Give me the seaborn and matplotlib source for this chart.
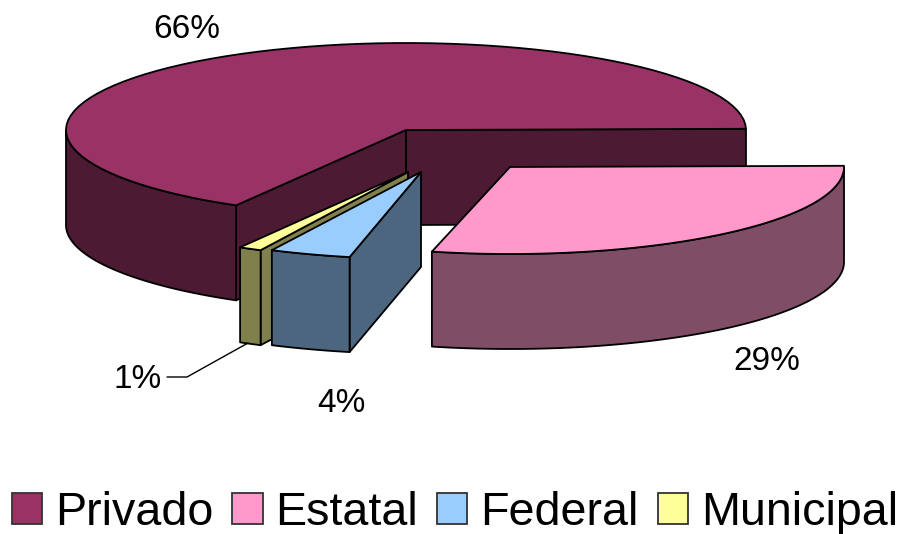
import numpy as np
import seaborn as sns
import matplotlib.pyplot as plt
from matplotlib.patches import Patch

# DATA
categories = ["Privado", "Estatal", "Federal", "Municipal"]
shares = [66.45, 28.59, 3.86, 1.1]
colors = ["#993366", "#FF99CC", "#99CCFF", "#FFFF99"]

# SETTING (slices go round the pie in this order, all in pixels)
draw_order = ["Privado", "Municipal", "Federal", "Estatal"]
centers = {"Privado": (406, 130), "Municipal": (408, 172), "Federal": (421, 172), "Estatal": (510, 167)}
radius_x = {"Privado": 340, "Municipal": 336, "Federal": 340, "Estatal": 334}
radius_y = 87
depth = 95
start_angle = 0.8
# the exploded slice sits a little further round in the perspective
start_shift = {"Estatal": -1.4}
label_pos = {"Privado": (187, 29), "Estatal": (767, 362), "Federal": (341, 403), "Municipal": (138, 380)}
font = "Liberation Sans"

sns.set_theme(style="white")
plt.rcParams['font.family'] = [font, 'DejaVu Sans']

fig, ax = plt.subplots(figsize=(9.02, 5.34), dpi=100)
fig.subplots_adjust(left=0, right=1, bottom=0, top=1)
ax.set_xlim(0, 902)
ax.set_ylim(534, 0)
ax.axis("off")


def arc(name, t0, t1):
    cx, cy = centers[name]
    t = np.radians(np.linspace(t0, t1, 80))
    return cx + radius_x[name] * np.cos(t), cy - radius_y * np.sin(t)


def face(xs, ys, color):
    ax.fill(xs, ys, facecolor=color, edgecolor="black", linewidth=1.3, joinstyle="round")


def wall(name, angle, color):
    cx, cy = centers[name]
    x, y = arc(name, angle, angle)
    face([cx, x[0], x[0], cx], [cy, y[0], y[0] + depth, cy + depth], color)


angle = start_angle
for name in draw_order:
    share = shares[categories.index(name)]
    color = colors[categories.index(name)]
    dark = tuple(c * 0.5 for c in sns.color_palette([color])[0])
    t0, t1 = angle + start_shift.get(name, 0), angle + share * 3.6
    angle = t1

    # back walls first, then the rim, then the top
    if name == "Privado":
        wall(name, t0, dark)
    if t1 < 270:
        wall(name, t1, dark)

    rim0, rim1 = max(t0, 180), min(t1, 360)
    x, y = arc(name, rim0, rim1)
    face(np.r_[x, x[::-1]], np.r_[y, y[::-1] + depth], dark)

    x, y = arc(name, t0, t1)
    cx, cy = centers[name]
    face(np.r_[cx, x], np.r_[cy, y], color)

# LABELS
for name, share in zip(categories, shares):
    ax.text(*label_pos[name], "{}%".format(round(share)), fontsize=24, color="black", ha="center", va="center")

# leader line of the smallest slice
ax.plot([167, 187, 248], [377, 377, 343], color="black", linewidth=1.0)

# LEGEND
handles = [Patch(facecolor=c, edgecolor="#333333", linewidth=1.3) for c in colors]
ax.legend(handles, categories, loc="lower left", bbox_to_anchor=(12 / 902, -1 / 534), ncol=4, frameon=False,
          fontsize=33.6, labelcolor="black", handlelength=0.645, handleheight=0.645, handletextpad=0.28,
          columnspacing=0.405, borderpad=0, borderaxespad=0)

plt.savefig("out.png", dpi=100)
plt.close()
